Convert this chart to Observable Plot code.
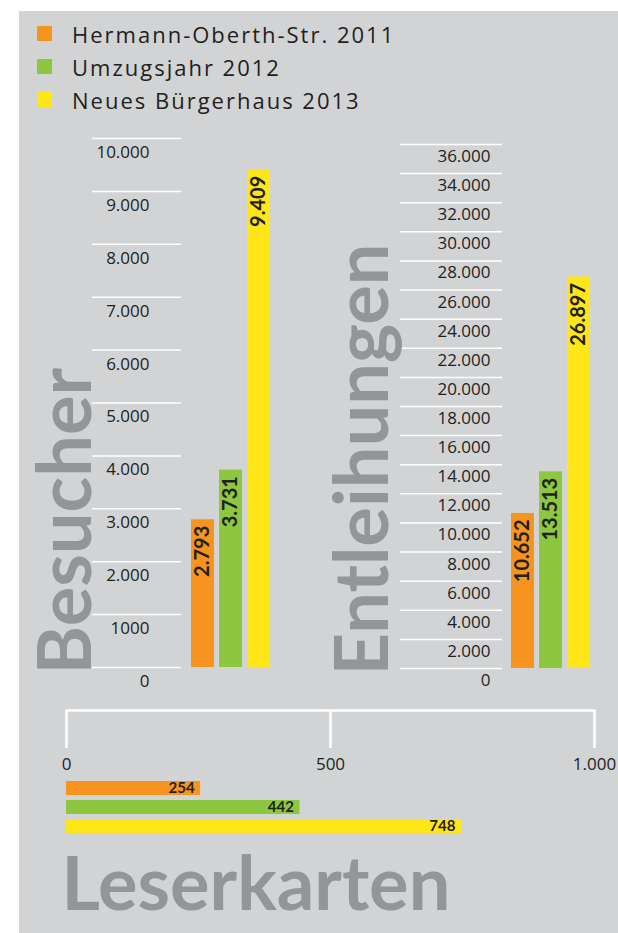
<!DOCTYPE html>
<html><head><meta charset="utf-8">
<script src="https://cdn.jsdelivr.net/npm/d3@7"></script>
<script src="https://cdn.jsdelivr.net/npm/@observablehq/plot@0.6"></script>
<style>
html,body{margin:0;padding:0;background:#fff;width:618px;height:933px;overflow:hidden;}
#panel{position:absolute;left:19px;top:11px;width:599px;height:922px;background:#d1d3d4;}
.abs{position:absolute;}
.legend-row{position:absolute;left:37px;height:15px;display:flex;align-items:center;font-family:"Open Sans",sans-serif;font-size:22px;color:#231f20;letter-spacing:2px;white-space:nowrap;}
.sw{width:15px;height:15px;margin-right:20px;flex:none;}
svg{overflow:visible;}
</style></head><body>
<div id="panel"></div>
<div id="legend"></div>
<div id="left" class="abs" style="left:19px;top:120px"></div>
<div id="right" class="abs" style="left:300px;top:120px"></div>
<div id="bottom" class="abs" style="left:19px;top:700px"></div>
<script>
const series = ["Hermann-Oberth-Str. 2011", "Umzugsjahr 2012", "Neues Bürgerhaus 2013"];
const colors = ["#f7941d", "#8dc63f", "#ffe619"];
const besucher = [2793, 3731, 9409];
const entleihungen = [10652, 13513, 26897];
const leserkarten = [254, 442, 748];
const besucherTicks = [0, 1000, 2000, 3000, 4000, 5000, 6000, 7000, 8000, 9000, 10000];
const besucherTickLabels = ["0", "1000", "2.000", "3.000", "4.000", "5.000", "6.000", "7.000", "8.000", "9.000", "10.000"];
const entleihTicks = [0, 2000, 4000, 6000, 8000, 10000, 12000, 14000, 16000, 18000, 20000, 22000, 24000, 26000, 28000, 30000, 32000, 34000, 36000];
const entleihTickLabels = ["0", "2.000", "4.000", "6.000", "8.000", "10.000", "12.000", "14.000", "16.000", "18.000", "20.000", "22.000", "24.000", "26.000", "28.000", "30.000", "32.000", "34.000", "36.000"];
const leserTicks = [0, 500, 1000];
const leserTickLabels = ["0", "500", "1.000"];
const titles = ["Besucher", "Entleihungen", "Leserkarten"];

const de = d3.formatLocale({decimal: ",", thousands: ".", grouping: [3], currency: ["", " €"]});
const fmt = de.format(",d");
const INK = "#231f20", BIG = "#939598";
const tickFont = {fontSize: 17, fill: INK, fontFamily: "Open Sans"};
const bigFont = {fontSize: 74, fontWeight: 700, fontFamily: "Lato", fill: BIG};

// legend
const leg = d3.select("#legend");
series.forEach((s, i) => {
  const row = leg.append("div").attr("class", "legend-row").style("top", (26 + i * 33) + "px");
  row.append("div").attr("class", "sw").style("background", colors[i]);
  row.append("span").text(s);
});

const mk = (vals) => series.map((s, i) => ({s, v: vals[i]}));

function vChart(el, vals, ticks, labels, title, o) {
  const data = mk(vals);
  const svg = Plot.plot({
    width: o.width, height: 580,
    marginTop: o.mt, marginBottom: o.mb, marginLeft: o.ml, marginRight: o.mr,
    style: {background: "transparent", overflow: "visible"},
    x: {type: "band", domain: series, range: o.xr, paddingInner: 0.19, paddingOuter: 0, axis: null},
    y: {domain: [0, d3.max(ticks)], axis: null},
    color: {domain: series, range: colors},
    marks: [
      Plot.ruleY(ticks, {stroke: "#fff", strokeWidth: 1.5}),
      Plot.text(ticks, {y: d => d, text: (d, i) => labels[i], frameAnchor: "left", lineAnchor: "middle", dx: o.ldx, dy: o.ldy, textAnchor: "end", ...tickFont}),
      Plot.barY(data, {x: "s", y: "v", fill: "s"}),
      Plot.text(data, {x: "s", y: "v", text: d => fmt(d.v), rotate: -90, textAnchor: "end", lineAnchor: "middle", dy: 6, fontSize: 20, fontWeight: 700, fontFamily: "Lato", fill: INK}),
      Plot.text([title], {frameAnchor: "bottom-left", rotate: -90, textAnchor: "start", lineAnchor: "bottom", dx: o.tdx, dy: 7, ...bigFont})
    ]
  });
  document.getElementById(el).append(svg);
}

vChart("left", besucher, besucherTicks, besucherTickLabels, titles[0],
  {width: 281, mt: 18, mb: 33, ml: 73, mr: 119, xr: [171, 251], ldx: 57, ldy: 14, tdx: -2});
vChart("right", entleihungen, entleihTicks, entleihTickLabels, titles[1],
  {width: 318, mt: 24, mb: 32, ml: 100, mr: 116, xr: [210, 290], ldx: 90, ldy: 12, tdx: -13});

// bottom
const ldata = mk(leserkarten);
const bottom = Plot.plot({
  width: 599, height: 233,
  marginTop: 10, marginBottom: 100, marginLeft: 47, marginRight: 24,
  style: {background: "transparent", overflow: "visible"},
  x: {domain: [0, d3.max(leserTicks)], axis: null},
  y: {type: "band", domain: series, range: [80, 133], paddingInner: 0.28, paddingOuter: 0, axis: null},
  color: {domain: series, range: colors},
  marks: [
    Plot.frame({anchor: "top", stroke: "#fff", strokeWidth: 2.5}),
    Plot.ruleX(leserTicks, {stroke: "#fff", strokeWidth: 2.5, insetBottom: 85}),
    Plot.text(leserTicks, {x: d => d, text: (d, i) => leserTickLabels[i], frameAnchor: "top", lineAnchor: "middle", dy: 54, ...tickFont}),
    Plot.barX(ldata, {y: "s", x: "v", fill: "s"}),
    Plot.text(ldata, {y: "s", x: "v", text: d => fmt(d.v), textAnchor: "end", lineAnchor: "middle", dx: -6, fontSize: 15, fontWeight: 700, fontFamily: "Lato", fill: INK}),
    Plot.text([titles[2]], {frameAnchor: "bottom-left", textAnchor: "start", lineAnchor: "bottom", dx: -5, dy: 76, ...bigFont})
  ]
});
document.getElementById("bottom").append(bottom);
</script>
</body></html>
